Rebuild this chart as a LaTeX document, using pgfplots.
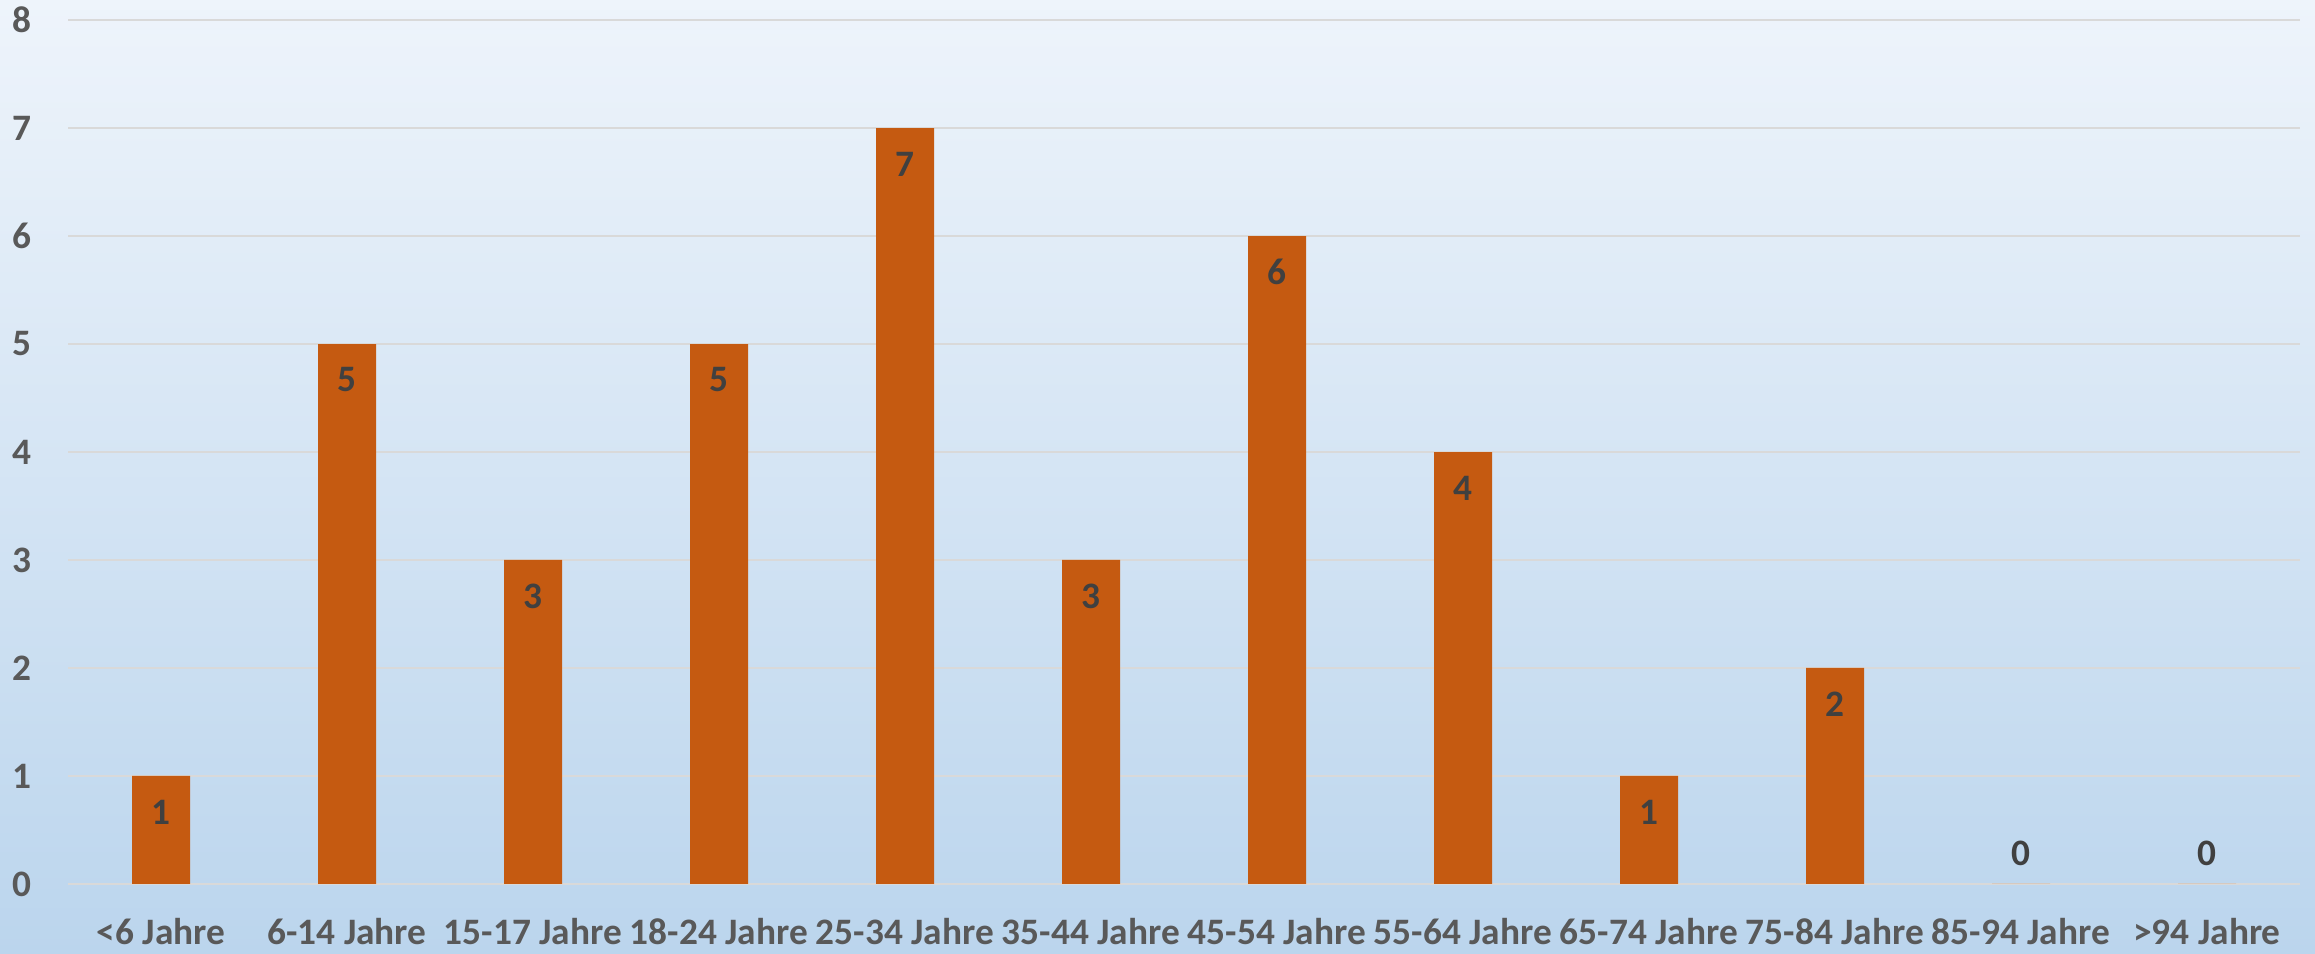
\documentclass[border=0pt]{standalone}
\usepackage{pgfplots}
\pgfplotsset{compat=1.18}
\usepackage{fontspec}
\setmainfont{Carlito}

\definecolor{barorange}{HTML}{C55A11}
\definecolor{bgtop}{HTML}{EEF4FB}
\definecolor{bgbot}{HTML}{BBD5ED}
\definecolor{gridgray}{HTML}{D9D9D9}
\definecolor{ticktext}{HTML}{595959}
\definecolor{valtext}{HTML}{404040}

\begin{document}
\begin{tikzpicture}
% background, 2315 x 954 px at 0.3pt per px
\fill[top color=bgtop, bottom color=bgbot] (0,0) rectangle (694.5pt,286.2pt);
\useasboundingbox (0,0) rectangle (694.5pt,286.2pt);
\begin{axis}[
    at={(20.4pt,21pt)}, anchor=south west,
    scale only axis,
    width=669.6pt, height=259.2pt,
    xmin=-0.5, xmax=11.5,
    ymin=0, ymax=8,
    ybar, bar width=17.4pt, bar shift=0pt,
    axis line style={draw=none},
    major tick length=0pt,
    ymajorgrids=true,
    grid style={color=gridgray, line width=0.6pt},
    xtick={0,1,2,3,4,5,6,7,8,9,10,11},
    xticklabels={<6 Jahre, 6-14 Jahre, 15-17 Jahre, 18-24 Jahre, 25-34 Jahre, 35-44 Jahre,
        45-54 Jahre, 55-64 Jahre, 65-74 Jahre, 75-84 Jahre, 85-94 Jahre, >94 Jahre},
    ytick={0,1,2,3,4,5,6,7,8},
    /pgf/number format/assume math mode=true,
    xticklabel style={anchor=base, inner sep=0pt, yshift=-18.3pt,
        font=\fontsize{11.2}{13}\selectfont\bfseries, text=ticktext},
    yticklabel style={anchor=east, inner sep=0pt, xshift=-10.8pt,
        font=\fontsize{11.2}{13}\selectfont\bfseries, text=ticktext},
    nodes near coords,
    visualization depends on={rawy \as \rawy},
    every node near coord/.append style={anchor=center, inner sep=0pt,
        yshift={((\rawy==0)?9.3:-10.8)*1pt},
        font=\fontsize{11.2}{13}\selectfont\bfseries, text=valtext},
]
\addplot[fill=barorange, draw=none] coordinates {
    (0,1) (1,5) (2,3) (3,5) (4,7) (5,3)
    (6,6) (7,4) (8,1) (9,2) (10,0) (11,0)
};
\end{axis}
\end{tikzpicture}
\end{document}
